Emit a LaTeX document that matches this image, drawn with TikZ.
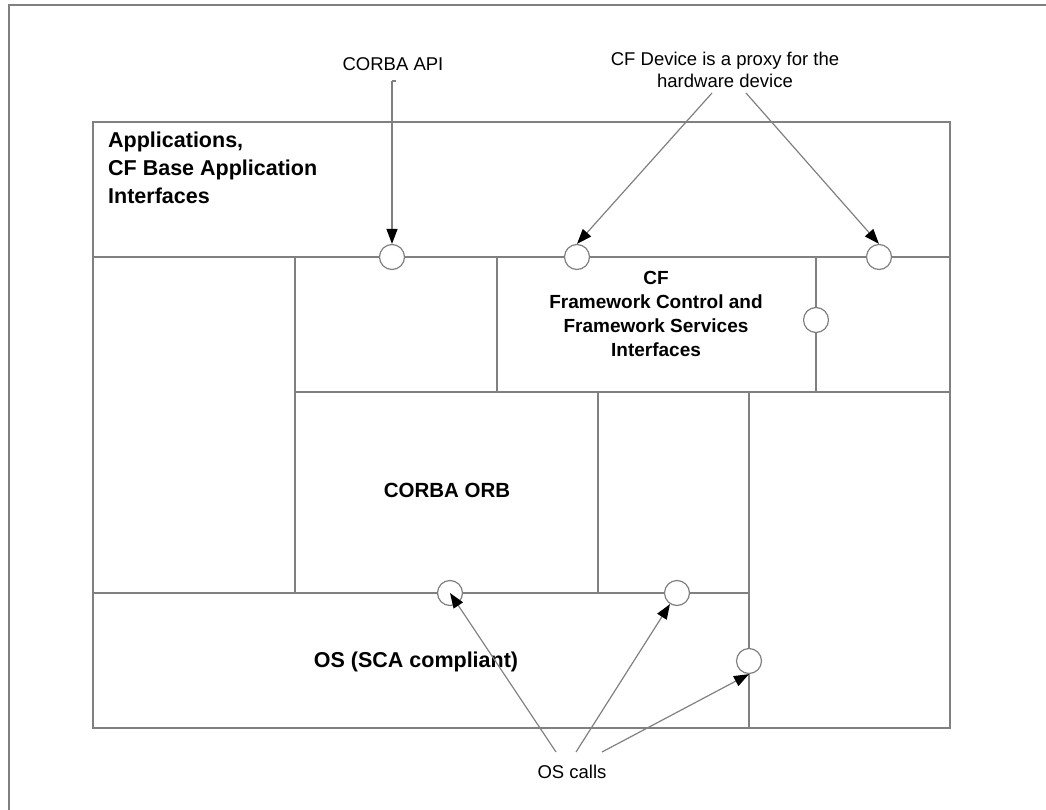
\documentclass[tikz,border=0pt]{standalone}
\usepackage{fontspec}
\setmainfont{Liberation Sans}
\usetikzlibrary{arrows.meta}
\definecolor{linegray}{HTML}{808080}
\begin{document}
\begin{tikzpicture}[x=1pt,y=-1pt,
  wall/.style={draw=linegray,line width=1.4pt},
  port/.style={circle,draw=linegray,line width=1.2pt,fill=white,minimum size=25pt,inner sep=0pt},
  callout/.style={draw=linegray,line width=1.2pt,-{Triangle[length=15pt,width=11pt,color=black]}},
  boldlbl/.style={font=\fontsize{21.5}{28}\selectfont\bfseries},
  plainlbl/.style={font=\fontsize{18.5}{22}\selectfont}]
\useasboundingbox (0,0) rectangle (1046,810);
% page frame
\draw[wall] (9,810) -- (9,5) -- (1046,5);
% layered blocks
\draw[wall] (93,122) rectangle (950,728);
\draw[wall] (93,257) -- (950,257);
\draw[wall] (295,257) -- (295,593);
\draw[wall] (497,257) -- (497,392);
\draw[wall] (816,257) -- (816,392);
\draw[wall] (295,392) -- (950,392);
\draw[wall] (598,392) -- (598,593);
\draw[wall] (749,392) -- (749,728);
\draw[wall] (93,593) -- (749,593);
% interface ports
\node[port] (c1) at (392,257) {};
\node[port] (c2) at (577,257) {};
\node[port] (c3) at (879,257) {};
\node[port] (c4) at (816,320) {};
\node[port] (c5) at (450,593) {};
\node[port] (c6) at (677,593) {};
\node[port] (c7) at (749,661) {};
% block labels
\node[boldlbl,anchor=north west,align=left,inner sep=0pt] (apps) at (108,132) {Applications,\\CF Base Application\\Interfaces};
\node[align=center,font=\fontsize{19}{24}\selectfont\bfseries] (cf) at (656,314) {CF\\Framework Control and\\Framework Services\\Interfaces};
\node[font=\fontsize{20.5}{24}\selectfont\bfseries] (orb) at (447,490) {CORBA ORB};
\node[boldlbl] (os) at (416,662) {OS (SCA compliant)};
% callout texts
\node[plainlbl] (capitxt) at (393,64) {CORBA API};
\node[plainlbl,align=center] (cfdtxt) at (725,70) {CF Device is a proxy for the\\hardware device};
\node[plainlbl] (oscalls) at (572,772) {OS calls};
% callout arrows
\coordinate (capi) at (392,81);
\coordinate (capihook) at (396,81);
\draw[wall,line width=1.2pt] (capihook) -- (capi);
\draw[callout] (capi) -- (c1);
\coordinate (cfd1) at (712,93);
\coordinate (cfd2) at (746,93);
\draw[callout] (cfd1) -- (c2.north);
\draw[callout] (cfd2) -- (c3.north);
\coordinate (os1) at (556,752);
\coordinate (os2) at (576,752);
\coordinate (os3) at (602,752);
\draw[callout] (os1) -- (c5.center);
\draw[callout] (os2) -- (c6);
\draw[callout] (os3) -- (c7.south);
\end{tikzpicture}
\end{document}
